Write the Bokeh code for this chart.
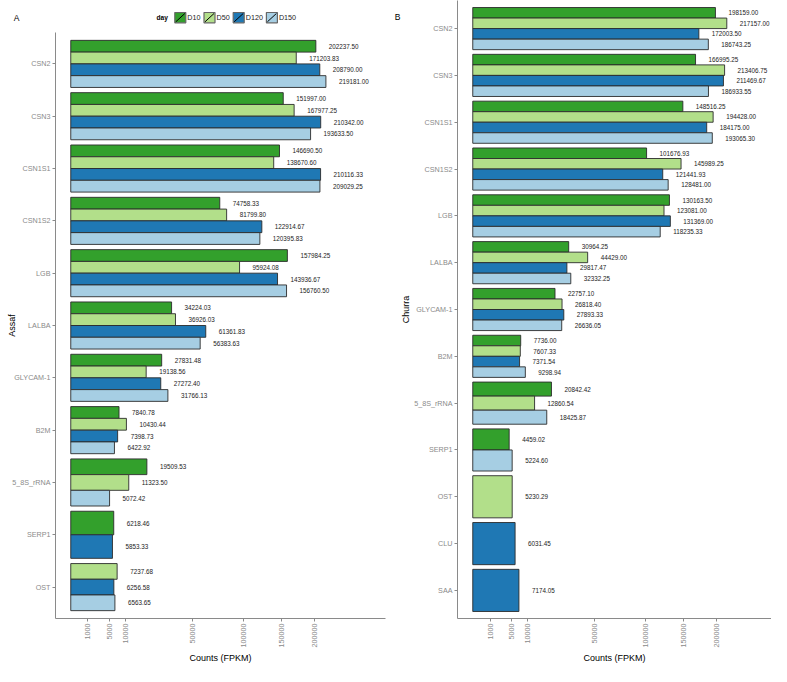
import numpy as np
from bokeh.plotting import figure
from bokeh.models import (ColumnDataSource, Range1d, FixedTicker, CustomJSTickFormatter,
                          LinearAxis)
from bokeh.layouts import row, column
from bokeh.embed import file_html
from bokeh.resources import INLINE
from bokeh.core.properties import value

# ---------------- data ----------------
days = ["D10", "D50", "D120", "D150"]
day_colors = ["#33a02c", "#b2df8a", "#1f78b4", "#a6cee3"]

assaf_genes = ["CSN2", "CSN3", "CSN1S1", "CSN1S2", "LGB", "LALBA", "GLYCAM-1",
               "B2M", "5_8S_rRNA", "SERP1", "OST"]
assaf_D10 = [202237.50, 151997.00, 146690.50, 74758.33, 157984.25, 34224.03, 27831.48,
             7840.78, 19509.53, 6218.46, None]
assaf_D50 = [171203.83, 167977.25, 138670.60, 81799.80, 95924.08, 36926.03, 19138.56,
             10430.44, 11323.50, None, 7237.68]
assaf_D120 = [208790.00, 210342.00, 210116.33, 122914.67, 143936.67, 61361.83, 27272.40,
              7398.73, None, 5853.33, 6256.58]
assaf_D150 = [219181.00, 193633.50, 209029.25, 120395.83, 156760.50, 56383.63, 31766.13,
              6422.92, 5072.42, None, 6563.65]

churra_genes = ["CSN2", "CSN3", "CSN1S1", "CSN1S2", "LGB", "LALBA", "GLYCAM-1",
                "B2M", "5_8S_rRNA", "SERP1", "OST", "CLU", "SAA"]
churra_D10 = [198159.00, 166995.25, 148516.25, 101676.93, 130163.50, 30964.25, 22757.10,
              7736.00, 20842.42, 4459.02, None, None, None]
churra_D50 = [217157.00, 213406.75, 194428.00, 145989.25, 123081.00, 44429.00, 26818.40,
              7607.33, 12860.54, None, 5230.29, None, None]
churra_D120 = [172003.50, 211469.67, 184175.00, 121441.93, 131369.00, 29817.47, 27893.33,
               7371.54, None, None, None, 6031.45, 7174.05]
churra_D150 = [186743.25, 186933.55, 193065.30, 128481.00, 118235.33, 32332.25, 26636.05,
               9298.94, 18425.87, 5224.60, None, None, None]

x_ticks = [1000, 5000, 10000, 50000, 100000, 150000, 200000]

FONT = "Liberation Sans"
GREY = "#8a8a8a"


def tag_axis(text, tick, standoff):
    """An axis without line/ticks that only carries a panel tag such as 'A' or 'B'."""
    ax = LinearAxis(ticker=FixedTicker(ticks=[tick]),
                    formatter=CustomJSTickFormatter(code="return '%s';" % text))
    ax.axis_line_color = None
    ax.major_tick_line_color = None
    ax.minor_tick_line_color = None
    ax.major_tick_out = 0
    ax.major_tick_in = 0
    ax.minor_tick_out = 0
    ax.major_label_standoff = standoff
    ax.major_label_orientation = "horizontal"
    ax.major_label_text_font = FONT
    ax.major_label_text_font_size = "8.5px"
    ax.major_label_text_color = "black"
    return ax


def make_panel(genes, series, width, height, border_left, border_right, x_end, ytitle,
               ytitle_standoff):
    ys, hs, rs, cols, labs = [], [], [], [], []
    for i, g in enumerate(genes):
        present = [(c, series[d][i]) for d, c in zip(days, day_colors) if series[d][i] is not None]
        n = len(present)
        h = 0.9 / n
        for j, (c, v) in enumerate(present):
            ys.append(i - 0.45 + h * (j + 0.5))
            hs.append(h)
            rs.append(float(np.sqrt(v)))
            cols.append(c)
            labs.append(f"{v:.2f}")
    src = ColumnDataSource(dict(y=ys, h=hs, r=rs, color=cols, lab=labs))
    ncat = len(genes)
    p = figure(width=width, height=height,
               x_range=Range1d(-28, x_end), y_range=Range1d(ncat - 0.4, -0.6),
               output_backend="svg", toolbar_location=None,
               min_border_left=border_left, min_border_right=border_right,
               min_border_top=0, min_border_bottom=43)
    p.xgrid.visible = False
    p.ygrid.visible = False
    p.outline_line_color = None
    p.background_fill_color = "white"

    p.hbar(y="y", height="h", left=0, right="r", fill_color="color",
           line_color="#2b2b2b", line_width=0.9, source=src)
    p.text(x="r", y="y", text="lab", x_offset=13, text_align="left", text_baseline="middle",
           text_font_size="6.3px", text_font=value(FONT), text_color="#222222", source=src)

    p.xaxis.ticker = FixedTicker(ticks=[float(np.sqrt(t)) for t in x_ticks])
    p.xaxis.formatter = CustomJSTickFormatter(code="return Math.round(tick*tick).toString();")
    p.xaxis.major_label_orientation = np.pi / 2
    p.xaxis.axis_label = "Counts (FPKM)"
    p.xaxis.axis_label_standoff = 3
    p.yaxis.ticker = FixedTicker(ticks=list(range(ncat)))
    p.yaxis.major_label_overrides = {i: g for i, g in enumerate(genes)}
    p.yaxis.axis_label = ytitle
    p.yaxis.axis_label_standoff = ytitle_standoff

    for ax in (p.xaxis, p.yaxis):
        ax.minor_tick_line_color = None
        ax.major_tick_out = 3
        ax.major_tick_in = 0
        ax.major_label_standoff = 2
        ax.axis_line_color = GREY
        ax.major_tick_line_color = GREY
        ax.major_label_text_color = GREY
        ax.major_label_text_font_size = "7.2px"
        ax.major_label_text_font = FONT
        ax.axis_label_text_font = FONT
        ax.axis_label_text_font_size = "9px"
        ax.axis_label_text_font_style = "normal"
        ax.axis_label_text_color = "black"
    return p


assaf_series = dict(D10=assaf_D10, D50=assaf_D50, D120=assaf_D120, D150=assaf_D150)
churra_series = dict(D10=churra_D10, D50=churra_D50, D120=churra_D120, D150=churra_D150)

pA = make_panel(assaf_genes, assaf_series, 390, 634, 55, 5, 577.5, "Assaf", -8)
pB = make_panel(churra_genes, churra_series, 381, 666, 67, 0, 548.0, "Churra", 0)
pB.add_layout(tag_axis("B", -0.24, -2), "left")

# ---------------- legend strip above panel A (frame aligned with panel A) ----------------
leg = figure(width=390, height=32, x_range=Range1d(55, 385), y_range=Range1d(0, 32),
             output_backend="svg", toolbar_location=None,
             min_border_left=55, min_border_right=5, min_border_top=0, min_border_bottom=0,
             x_axis_location=None, y_axis_location=None)
leg.xgrid.visible = False
leg.ygrid.visible = False
leg.outline_line_color = None
leg.add_layout(tag_axis("A", 15, 36), "left")

leg.text(x=[156], y=[15], text=["day"], text_align="left", text_baseline="middle",
         text_font=value(FONT), text_font_size="6.6px", text_font_style="bold", text_color="black")

key_w = 11
text_w = {"D10": 13.2, "D50": 13.2, "D120": 17.2, "D150": 17.2}
cursor = 174.3
kl, kr, tx = [], [], []
for d in days:
    kl.append(cursor)
    kr.append(cursor + key_w)
    tx.append(cursor + key_w + 1.5)
    cursor = cursor + key_w + 1.5 + text_w[d] + 3.5
leg.quad(left=kl, right=kr, bottom=9.7, top=20.0, fill_color=day_colors,
         line_color="#666666", line_width=1.2)
leg.segment(x0=[k + 1 for k in kl], y0=10.7, x1=[k - 1 for k in kr], y1=19.0,
            line_color="black", line_width=1)
leg.text(x=tx, y=15, text=days, text_align="left", text_baseline="middle",
         text_font=value(FONT), text_font_size="7.2px", text_color="#222222")

layout = row(column(leg, pA), pB)
open("out.html", "w").write(file_html(layout, INLINE))
